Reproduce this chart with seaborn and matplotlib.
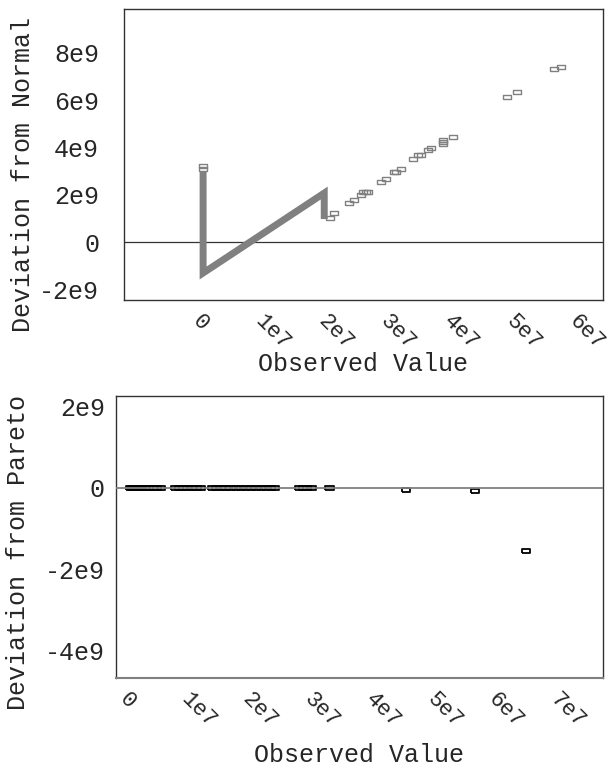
import numpy as np
import pandas as pd
import matplotlib
matplotlib.use("Agg")
import matplotlib.pyplot as plt
import seaborn as sns

# ---- Normal panel -------------------------------------------------------
# dense run of points (drawn as a thick band through its outline vertices)
normal_band_x = [0.0, 0.0, 1.93e7, 1.93e7]
normal_band_y = [2.96e9, -1.31e9, 2.07e9, 0.97e9]

# individual observations
normal_x = [0.0, 0.0, 2.02e7, 2.09e7, 2.32e7, 2.40e7, 2.52e7, 2.55e7, 2.60e7,
            2.63e7, 2.83e7, 2.91e7, 3.04e7, 3.07e7, 3.15e7, 3.34e7, 3.42e7,
            3.47e7, 3.58e7, 3.63e7, 3.82e7, 3.82e7, 3.82e7, 3.98e7, 4.84e7,
            5.00e7, 5.59e7, 5.70e7]
normal_y = [3.09e9, 3.21e9, 1.01e9, 1.23e9, 1.65e9, 1.78e9, 1.99e9, 2.11e9,
            2.11e9, 2.11e9, 2.54e9, 2.66e9, 2.96e9, 2.96e9, 3.09e9, 3.51e9,
            3.68e9, 3.68e9, 3.89e9, 3.97e9, 4.14e9, 4.23e9, 4.31e9, 4.44e9,
            6.13e9, 6.34e9, 7.31e9, 7.40e9]

normal_yticks = [-2e9, 0, 2e9, 4e9, 6e9, 8e9]
normal_ylabels = ["-2e9", "0", "2e9", "4e9", "6e9", "8e9"]
normal_xticks = [0, 1e7, 2e7, 3e7, 4e7, 5e7, 6e7]
normal_xlabels = ["0", "1e7", "2e7", "3e7", "4e7", "5e7", "6e7"]

# ---- Pareto panel -------------------------------------------------------
pareto_x = [0.0, 0.03e7, 0.06e7, 0.10e7, 0.14e7, 0.19e7, 0.25e7, 0.31e7,
            0.38e7, 0.44e7, 0.50e7,
            0.73e7, 0.80e7, 0.86e7, 0.93e7, 1.01e7, 1.08e7, 1.15e7,
            1.33e7, 1.40e7, 1.48e7, 1.55e7, 1.63e7, 1.72e7, 1.80e7, 1.88e7,
            1.97e7, 2.05e7, 2.13e7, 2.21e7, 2.29e7, 2.36e7,
            2.75e7, 2.81e7, 2.88e7, 2.96e7, 3.24e7,
            4.49e7, 5.61e7, 6.44e7]
pareto_y = [0.0] * 37 + [-0.04e9, -0.07e9, -1.56e9]

pareto_yticks = [-4e9, -2e9, 0, 2e9]
pareto_ylabels = ["-4e9", "-2e9", "0", "2e9"]
pareto_xticks = [0, 1e7, 2e7, 3e7, 4e7, 5e7, 6e7, 7e7]
pareto_xlabels = ["0", "1e7", "2e7", "3e7", "4e7", "5e7", "6e7", "7e7"]

# ---- styling ------------------------------------------------------------
sns.set_theme(style="white")
plt.rcParams["font.family"] = ["Liberation Mono", "DejaVu Sans"]
plt.rcParams["axes.unicode_minus"] = False
FS = 18
XFS = 16

rect = [(-1.0, -0.5), (1.0, -0.5), (1.0, 0.5), (-1.0, 0.5), (-1.0, -0.5)]

W, H = 607, 770
fig = plt.figure(figsize=(W / 100, H / 100), dpi=100)
ax1 = fig.add_axes([0.2043, 0.6104, 0.789, 0.378])
ax2 = fig.add_axes([0.1911, 0.1195, 0.8023, 0.3662])

# top panel
band = pd.DataFrame({"x": normal_band_x, "y": normal_band_y})
pts = pd.DataFrame({"x": normal_x, "y": normal_y})
ax1.axhline(0, color="#333333", lw=0.9, zorder=1)
sns.lineplot(data=band, x="x", y="y", sort=False, estimator=None, ax=ax1,
             color="#808080", lw=5.0, solid_capstyle="butt",
             solid_joinstyle="miter", zorder=2)
sns.scatterplot(data=pts, x="x", y="y", ax=ax1, marker=rect, s=30,
                facecolor="none", edgecolor="#808080", linewidth=1.0, zorder=3)
ax1.set_xlim(-1.26e7, 6.37e7)
ax1.set_ylim(-2.45e9, 9.85e9)
ax1.set_yticks(normal_yticks)
ax1.set_yticklabels(normal_ylabels)
ax1.set_xticks(normal_xticks)
ax1.set_xticklabels(normal_xlabels, rotation=-45, ha="left", va="top",
                    rotation_mode="anchor", fontsize=XFS)
ax1.set_xlabel("Observed Value", fontsize=FS, labelpad=-2)
ax1.set_ylabel("Deviation from Normal", fontsize=FS)

# bottom panel
pdat = pd.DataFrame({"x": pareto_x, "y": pareto_y})
ax2.axhline(0, color="#808080", lw=1.3, zorder=3)
sns.scatterplot(data=pdat, x="x", y="y", ax=ax2, marker=rect, s=36,
                facecolor="none", edgecolor="black", linewidth=1.3, zorder=2)
ax2.set_xlim(-0.23e7, 7.69e7)
ax2.set_ylim(-4.69e9, 2.27e9)
ax2.set_yticks(pareto_yticks)
ax2.set_yticklabels(pareto_ylabels)
ax2.set_xticks(pareto_xticks)
ax2.set_xticklabels(pareto_xlabels, rotation=-45, ha="left", va="top",
                    rotation_mode="anchor", fontsize=XFS)
ax2.set_xlabel("Observed Value", fontsize=FS, labelpad=8)
ax2.set_ylabel("Deviation from Pareto", fontsize=FS)

for ax in (ax1, ax2):
    ax.tick_params(axis="y", length=0, labelsize=FS, pad=8)
    ax.tick_params(axis="x", length=0, pad=8)
    for s in ax.spines.values():
        s.set_color("#333333")
        s.set_linewidth(1.0)
    ax.grid(False)
ax1.tick_params(axis="y", pad=18)
ax2.spines["bottom"].set_color("#808080")
ax2.spines["bottom"].set_linewidth(1.5)

# y-axis titles: place anchors in pixel terms, converted to axes fractions
def place_ylabel(ax, x_px, y_px):
    bb = ax.get_position()
    ax_l, ax_w = bb.x0 * W, bb.width * W
    ax_top = (1 - bb.y1) * H
    ax_h = bb.height * H
    ax.yaxis.set_label_coords((x_px - ax_l) / ax_w,
                              1 - (y_px - ax_top) / ax_h)

place_ylabel(ax1, 35, 174)
place_ylabel(ax2, 30, 552)

fig.savefig("out.png", dpi=100)
